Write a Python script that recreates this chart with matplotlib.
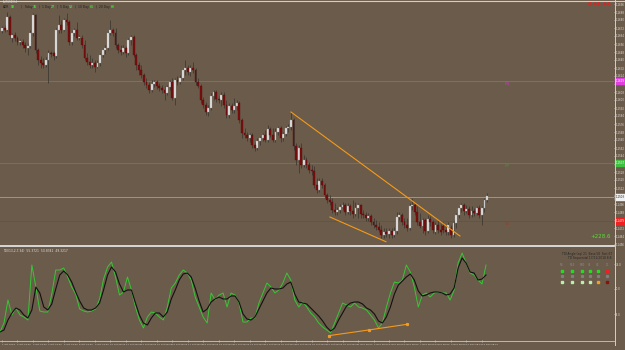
import numpy as np
import matplotlib
matplotlib.use("Agg")
import matplotlib.pyplot as plt
from matplotlib.lines import Line2D
from matplotlib.patches import Rectangle
from matplotlib import transforms
from matplotlib.ticker import MultipleLocator, FuncFormatter
from matplotlib import font_manager

# ---------------- data ----------------
symbol_title = "EURUSD,H4"
adr_labels = ["ADR", "Today", "1 Day", "5 Day", "10 Day", "20 Day"]
adr_values = ["88", "35", "27", "58", "61", "68"]

opens = [1.1669,1.1672,1.1670,1.1683,1.1662,1.1665,1.1662,1.1658,1.1658,1.1655,1.1652,1.1654,1.1667,1.1685,1.1650,1.1640,1.1637,1.1635,1.1640,1.1647,1.1647,1.1644,1.1670,1.1675,1.1670,1.1680,1.1678,1.1658,1.1667,1.1670,1.1662,1.1662,1.1655,1.1642,1.1638,1.1635,1.1637,1.1633,1.1637,1.1645,1.1650,1.1652,1.1667,1.1670,1.1667,1.1655,1.1650,1.1648,
         1.1652,1.1647,1.1660,1.1663,1.1645,1.1635,1.1630,1.1625,1.1618,1.1615,1.1610,1.1616,1.1618,1.1614,1.1612,1.1610,1.1607,1.1613,1.1618,1.1602,1.1620,1.1618,1.1622,1.1630,1.1632,1.1628,1.1632,1.1630,1.1618,1.1614,1.1600,1.1595,1.1588,1.1592,1.1604,1.1608,1.1601,1.1600,1.1605,1.1595,1.1585,1.1594,1.1590,1.1594,1.1597,1.1580,
         1.1567,1.1565,1.1562,1.1565,1.1555,1.1552,1.1559,1.1562,1.1565,1.1560,1.1571,1.1565,1.1560,1.1568,1.1572,1.1562,1.1566,1.1572,1.1573,1.1580,1.1554,1.1540,1.1552,1.1535,1.1540,1.1535,1.1530,1.1529,1.1515,1.1510,1.1519,1.1515,1.1505,1.1500,1.1498,1.1490,1.1488,1.1490,1.1493,1.1495,1.1488,1.1494,1.1489,1.1486,1.1492,1.1495,1.1486,
         1.1485,1.1482,1.1484,1.1478,1.1475,1.1473,1.1470,1.1465,1.1468,1.1466,1.1469,1.1465,1.1469,1.1483,1.1485,1.1478,1.1475,1.1472,1.1494,1.1495,1.1488,1.1478,1.1474,1.1480,1.1469,1.1481,1.1478,1.1468,1.1475,1.1470,1.1474,1.1470,1.1468,1.1472,1.1465,1.1477,1.1485,1.1492,1.1495,1.1489,1.1491,1.1485,1.1489,1.1487,1.1492,1.1485,1.1492,1.1500]

closes = [1.1672,1.1670,1.1683,1.1665,1.1665,1.1662,1.1658,1.1659,1.1655,1.1652,1.1654,1.1667,1.1685,1.1650,1.1640,1.1637,1.1635,1.1640,1.1647,1.1646,1.1644,1.1670,1.1675,1.1670,1.1680,1.1678,1.1658,1.1667,1.1670,1.1662,1.1663,1.1655,1.1642,1.1638,1.1635,1.1637,1.1633,1.1637,1.1645,1.1650,1.1652,1.1667,1.1670,1.1667,1.1655,1.1650,1.1648,1.1652,
          1.1647,1.1660,1.1663,1.1645,1.1635,1.1630,1.1625,1.1618,1.1615,1.1610,1.1616,1.1618,1.1614,1.1612,1.1610,1.1607,1.1613,1.1618,1.1602,1.1620,1.1618,1.1622,1.1630,1.1632,1.1628,1.1632,1.1630,1.1618,1.1614,1.1600,1.1595,1.1588,1.1592,1.1604,1.1608,1.1601,1.1600,1.1605,1.1595,1.1585,1.1594,1.1590,1.1594,1.1597,1.1580,1.1567,
          1.1565,1.1562,1.1565,1.1555,1.1552,1.1559,1.1562,1.1565,1.1560,1.1571,1.1565,1.1560,1.1568,1.1572,1.1562,1.1566,1.1572,1.1573,1.1580,1.1554,1.1540,1.1552,1.1535,1.1540,1.1535,1.1530,1.1529,1.1515,1.1510,1.1519,1.1515,1.1505,1.1500,1.1498,1.1490,1.1488,1.1490,1.1493,1.1495,1.1488,1.1494,1.1489,1.1486,1.1492,1.1495,1.1486,1.1485,
          1.1482,1.1484,1.1478,1.1475,1.1473,1.1470,1.1465,1.1468,1.1466,1.1469,1.1465,1.1469,1.1483,1.1485,1.1478,1.1475,1.1472,1.1494,1.1495,1.1488,1.1478,1.1474,1.1480,1.1469,1.1481,1.1478,1.1470,1.1475,1.1470,1.1468,1.1470,1.1468,1.1475,1.1465,1.1477,1.1485,1.1492,1.1495,1.1489,1.1491,1.1485,1.1489,1.1487,1.1492,1.1485,1.1492,1.1500,1.1504]

highs = [1.1674,1.1675,1.1688,1.1685,1.1667,1.1668,1.1664,1.1661,1.1661,1.1658,1.1657,1.1670,1.1687,1.1686,1.1652,1.1644,1.1642,1.1643,1.1650,1.1649,1.1649,1.1672,1.1685,1.1680,1.1682,1.1687,1.1680,1.1670,1.1672,1.1678,1.1665,1.1665,1.1660,1.1647,1.1645,1.1642,1.1640,1.1640,1.1647,1.1652,1.1655,1.1669,1.1680,1.1672,1.1672,1.1657,1.1655,1.1655,
         1.1654,1.1662,1.1665,1.1665,1.1647,1.1638,1.1635,1.1627,1.1622,1.1618,1.1620,1.1620,1.1620,1.1617,1.1615,1.1614,1.1615,1.1620,1.1622,1.1622,1.1624,1.1625,1.1632,1.1640,1.1635,1.1635,1.1638,1.1632,1.1622,1.1616,1.1603,1.1598,1.1595,1.1607,1.1610,1.1610,1.1605,1.1608,1.1608,1.1600,1.1597,1.1597,1.1602,1.1600,1.1599,1.1582,
         1.1572,1.1568,1.1567,1.1567,1.1558,1.1562,1.1564,1.1567,1.1570,1.1575,1.1573,1.1572,1.1572,1.1574,1.1574,1.1568,1.1574,1.1576,1.1588,1.1582,1.1557,1.1555,1.1557,1.1545,1.1543,1.1538,1.1535,1.1534,1.1522,1.1522,1.1522,1.1517,1.1507,1.1505,1.1502,1.1497,1.1493,1.1496,1.1498,1.1497,1.1497,1.1496,1.1500,1.1498,1.1497,1.1496,1.1490,
         1.1488,1.1487,1.1486,1.1482,1.1480,1.1478,1.1475,1.1472,1.1472,1.1472,1.1472,1.1473,1.1488,1.1488,1.1487,1.1482,1.1482,1.1497,1.1502,1.1497,1.1494,1.1487,1.1482,1.1482,1.1485,1.1484,1.1480,1.1478,1.1480,1.1476,1.1478,1.1475,1.1478,1.1475,1.1480,1.1487,1.1494,1.1497,1.1497,1.1495,1.1494,1.1494,1.1492,1.1494,1.1495,1.1494,1.1502,1.1507]

lows = [1.1667,1.1668,1.1669,1.1662,1.1658,1.1659,1.1655,1.1655,1.1652,1.1648,1.1645,1.1652,1.1664,1.1647,1.1635,1.1632,1.1632,1.1633,1.1617,1.1643,1.1640,1.1642,1.1667,1.1667,1.1669,1.1675,1.1655,1.1655,1.1664,1.1660,1.1660,1.1652,1.1640,1.1635,1.1632,1.1632,1.1628,1.1632,1.1634,1.1643,1.1646,1.1650,1.1665,1.1664,1.1652,1.1647,1.1645,1.1646,
        1.1643,1.1645,1.1655,1.1643,1.1630,1.1625,1.1622,1.1615,1.1612,1.1607,1.1608,1.1613,1.1611,1.1609,1.1607,1.1600,1.1605,1.1610,1.1600,1.1595,1.1615,1.1616,1.1620,1.1625,1.1625,1.1624,1.1627,1.1615,1.1612,1.1597,1.1592,1.1585,1.1584,1.1590,1.1600,1.1598,1.1597,1.1594,1.1592,1.1582,1.1582,1.1587,1.1587,1.1590,1.1577,1.1562,
        1.1562,1.1559,1.1558,1.1552,1.1549,1.1550,1.1555,1.1559,1.1558,1.1558,1.1563,1.1558,1.1558,1.1565,1.1558,1.1559,1.1564,1.1568,1.1570,1.1550,1.1535,1.1527,1.1532,1.1533,1.1532,1.1527,1.1525,1.1512,1.1507,1.1508,1.1512,1.1502,1.1497,1.1495,1.1487,1.1485,1.1485,1.1487,1.1490,1.1485,1.1486,1.1485,1.1482,1.1484,1.1482,1.1482,1.1482,
        1.1479,1.1479,1.1475,1.1472,1.1470,1.1468,1.1462,1.1462,1.1463,1.1462,1.1462,1.1463,1.1466,1.1480,1.1475,1.1472,1.1469,1.1470,1.1490,1.1485,1.1475,1.1472,1.1467,1.1465,1.1467,1.1474,1.1467,1.1466,1.1467,1.1465,1.1467,1.1465,1.1465,1.1462,1.1463,1.1472,1.1482,1.1488,1.1485,1.1487,1.1482,1.1483,1.1484,1.1485,1.1482,1.1475,1.1488,1.1498]

# oscillator (fast = green, slow = black), sampled evenly across the bars
osc_fast = [7, 16, 39, 24, 31, 24, 22, 19, 74, 52,
            28, 27, 27, 45, 69, 69, 71, 62, 52, 45,
            30, 28, 27, 28, 30, 40, 60, 72, 77, 62,
            44, 47, 62, 49, 32, 19, 11, 22, 27, 26,
            22, 19, 32, 51, 56, 64, 69, 66, 59, 42,
            32, 22, 16, 46, 39, 44, 46, 32, 46, 44,
            36, 17, 17, 21, 21, 36, 46, 56, 52, 46,
            49, 56, 66, 59, 39, 32, 37, 32, 26, 22,
            16, 12, 9, 6, 16, 26, 36, 34, 32, 36,
            32, 31, 29, 24, 19, 11, 16, 32, 46, 57,
            56, 59, 74, 67, 52, 32, 44, 46, 42, 46,
            47, 46, 46, 39, 49, 76, 86, 76, 66, 64,
            59, 55, 74]
osc_slow = [7, 9, 19, 26, 31, 29, 24, 21, 29, 52,
            46, 32, 29, 35, 50, 64, 68, 64, 57, 47,
            38, 31, 29, 29, 31, 36, 49, 64, 72, 67,
            55, 47, 49, 49, 36, 24, 16, 14, 21, 26,
            26, 22, 27, 40, 49, 59, 65, 66, 62, 51,
            38, 27, 30, 37, 40, 42, 40, 40, 43, 43,
            37, 25, 20, 19, 22, 30, 38, 46, 51, 50,
            50, 51, 55, 57, 45, 37, 36, 35, 31, 27,
            23, 18, 12, 8, 11, 19, 26, 33, 36, 37,
            37, 35, 31, 29, 25, 18, 16, 22, 32, 45,
            54, 58, 62, 65, 59, 48, 43, 44, 46, 47,
            47, 46, 44, 45, 51, 71, 81, 76, 67, 66,
            59, 60, 64]
osc_range = (-0.78, 187.6)

# trendlines (bar index, price / osc value)
upper_trend = [(112.0, 1.1588), (177.5, 1.1464)]
lower_trend = [(127.1, 1.1483), (148.8, 1.14583)]
osc_trend = [(126.6, 3.3), (142.1, 9.0), (157.0, 14.7)]

# horizontal levels
levels = [("R1", 1.1619, "#c23cc2"), ("PP", 1.1537, "#4f8c3a"), ("", 1.1503, "#9c978c"), ("S1", 1.1479, "#a03a2a")]

date_labels = ["1 Oct 2018", "2 Oct 08:00", "3 Oct 08:00", "4 Oct 08:00", "5 Oct 08:00",
               "8 Oct 08:00", "9 Oct 08:00", "10 Oct 08:00", "11 Oct 08:00", "12 Oct 08:00",
               "15 Oct 08:00", "16 Oct 08:00", "17 Oct 08:00", "18 Oct 08:00", "19 Oct 08:00",
               "22 Oct 08:00", "23 Oct 08:00", "24 Oct 08:00", "25 Oct 08:00", "26 Oct 08:00",
               "29 Oct 08:00", "30 Oct 08:00", "31 Oct 08:00", "1 Nov 08:00", "2 Nov 08:00",
               "5 Nov 08:00", "6 Nov 08:00", "7 Nov 08:00", "8 Nov 08:00", "9 Nov 08:00",
               "12 Nov 08:00", "13 Nov 08:00"]
bars_per_label = 6

tf_labels = ["M5", "M15", "M30", "H1", "H4", "D1"]
row_trend = ["#22dd22", "#22dd22", "#22dd22", "#22dd22", "#22dd22", "#ee2020"]
row_mid = ["#7f7f7f"] * 6
row_sig = ["#b8f0b0", "#b8f0b0", "#b8f0b0", "#b8f0b0", "#f0a020", "#8b1010"]

# ---------------- drawing ----------------
W, H = 625, 350
BG = "#6b5b4a"
WICK = "#3f3a33"
BULL = "#e4e4e4"
BEAR = "#7a1010"
AXC = "#dcdcdc"

avail = {f.name for f in font_manager.fontManager.ttflist}
NARROW = ["Liberation Sans Narrow", "DejaVu Sans"] if "Liberation Sans Narrow" in avail else ["DejaVu Sans"]

def fx(x):
    return x / W

def fy(y):
    return 1 - y / H

fig = plt.figure(figsize=(W / 100, H / 100), dpi=100, facecolor=BG)

# main price panel: pixels y 2..244, x 0..614 ; oscillator panel: y 248..340
ax = fig.add_axes([0, fy(244), fx(614), (244 - 2) / H], facecolor=BG)
axo = fig.add_axes([0, fy(340), fx(614), (340 - 248) / H], facecolor=BG)

o = np.array(opens); c = np.array(closes); h = np.array(highs); l = np.array(lows)
assert len(o) == len(c) == len(h) == len(l)
xb = np.arange(len(o))
up = c >= o
ax.vlines(xb, l, h, color=WICK, lw=0.6, zorder=2)
lo = np.minimum(o, c)
hh = np.maximum(np.abs(c - o), 0.00007)
ax.bar(xb[up], hh[up], bottom=lo[up], width=0.72, color=BULL, edgecolor="#9a9a9a", linewidth=0.25, zorder=3)
ax.bar(xb[~up], hh[~up], bottom=lo[~up], width=0.72, color=BEAR, edgecolor="#5a0808", linewidth=0.25, zorder=3)

xmin, xmax = (0 - 2) / 2.58, (614 - 2) / 2.58
for a in (ax, axo):
    a.set_xlim(xmin, xmax)
    for s in a.spines.values():
        s.set_visible(False)
ax.set_ylim(1.1700 - 0.0244, 1.1700 - 0.0002)

# levels
for name, p, col in levels:
    ax.axhline(p, color=col, lw=0.7, zorder=1)
    if name:
        ax.text(195, p - 0.00005, name, color=col, fontsize=3.0, va="top", ha="left", zorder=4)

# trendlines
for seg in (upper_trend, lower_trend):
    ax.plot([seg[0][0], seg[1][0]], [seg[0][1], seg[1][1]], color="#f59a1a", lw=0.8, zorder=5)

# right axis ticks (hide labels that sit under the level boxes)
level_prices = [p for _, p, _ in levels]
def price_fmt(v, pos):
    if any(abs(v - p) < 0.0005 for p in level_prices):
        return ""
    return "%.4f" % v
ax.yaxis.tick_right()
ax.yaxis.set_major_locator(MultipleLocator(0.0008))
ax.yaxis.set_major_formatter(FuncFormatter(price_fmt))
ax.tick_params(axis="y", colors=AXC, labelsize=1.9, length=0.7, width=0.4, pad=0.2)
for t in ax.get_yticklabels():
    t.set_family(NARROW)
ax.set_xticks([])

# value boxes on the right axis
bt = transforms.blended_transform_factory(fig.transFigure, ax.transData)
box_cols = {"#c23cc2": "#e040e0", "#4f8c3a": "#40c040", "#9c978c": "#f0f0f0", "#a03a2a": "#ee2020"}
for name, p, col in levels:
    r = Rectangle((fx(615), p - 0.00027), fx(10), 0.00054, transform=bt, color=box_cols[col], clip_on=False, zorder=6)
    ax.add_artist(r)
    ax.text(fx(615.4), p, "%.4f" % p, transform=bt, fontsize=1.9, family=NARROW,
            color="#202020" if col == "#9c978c" else "white",
            va="center", ha="left", clip_on=False, zorder=7)

# oscillator
xs = np.linspace(osc_range[0], osc_range[1], len(osc_fast))
axo.plot(xs, osc_fast, color="#34c834", lw=0.7, zorder=3)
axo.plot(xs, osc_slow, color="#111111", lw=0.8, zorder=4)
axo.plot([p[0] for p in osc_trend], [p[1] for p in osc_trend], color="#f59a1a", lw=0.8, zorder=5,
         marker="s", markersize=1.3)
axo.set_ylim(-1, 91)
axo.yaxis.tick_right()
axo.set_yticks([25, 50, 75])
axo.set_yticklabels(["25.0", "50.0", "75.0"])
axo.tick_params(axis="y", colors=AXC, labelsize=1.9, length=0.7, width=0.4, pad=0.2)
ticks = np.arange(len(date_labels)) * bars_per_label
axo.set_xticks(ticks)
axo.set_xticklabels(date_labels)
axo.tick_params(axis="x", colors=AXC, labelsize=1.75, length=1.5, width=0.4, pad=1.5)
for t in axo.get_xticklabels() + axo.get_yticklabels():
    t.set_family(NARROW)
for t in axo.get_xticklabels():
    t.set_ha("left")

# frame lines
def fline(x0, y0, x1, y1, col, lw):
    fig.add_artist(Line2D([fx(x0), fx(x1)], [fy(y0), fy(y1)], transform=fig.transFigure, color=col, lw=lw))

fline(0, 0.6, 625, 0.6, "#cfcfcf", 0.8)
fline(614.5, 0, 614.5, 345, "#d0d0d0", 0.7)
fline(0, 245.8, 614, 245.8, "#e2e2e2", 1.3)
fline(0, 340.5, 614, 340.5, "#c8c8c8", 0.6)

# header texts
fig.text(fx(3), fy(2.3), symbol_title, fontsize=1.8, family=NARROW, color="#e0e0e0", va="center")
lab_x = [3, 24, 42, 60, 78, 99]
val_x = [11, 33, 51, 69, 90, 111]
for i, (lb, vv) in enumerate(zip(adr_labels, adr_values)):
    fig.text(fx(lab_x[i]), fy(6.6), lb, fontsize=2.2, family=NARROW, color="#1e1e1e", va="center")
    fig.text(fx(val_x[i]), fy(6.6), vv, fontsize=2.2, family=NARROW, color="#3cd23c", va="center", weight="bold")
    if i > 0:
        fig.text(fx(lab_x[i] - 3.2), fy(6.6), "|", fontsize=2.0, family=NARROW, color="#1e1e1e", va="center")

fig.text(fx(612), fy(5), "0:49:44", fontsize=4.0, color="#e52020", va="center", ha="right", weight="bold")
fig.text(fx(611), fy(237), "+228.6", fontsize=4.0, color="#56dc3a", va="center", ha="right")

# oscillator header texts
fig.text(fx(3), fy(250.5), "TDI(13,2,7,34)  55.3721  50.8341  49.3217", fontsize=2.2, family=NARROW, color="#e0e0e0", va="center")
fig.text(fx(612), fy(253.5), "TDI Angle (eq) 21  Base 58  Fast 67", fontsize=2.1, family=NARROW, color="#262626", va="center", ha="right")
fig.text(fx(612), fy(257.8), "TD Sequential 17/11/2018 8:8", fontsize=2.1, family=NARROW, color="#262626", va="center", ha="right")
cols_x = [562, 572, 582, 590, 598, 607]
for i in range(6):
    fig.text(fx(cols_x[i]), fy(265), tf_labels[i], fontsize=1.8, family=NARROW, color="#8a8a8a", va="center", ha="center")
    for yy, colr, ms in ((271, row_trend[i], 2.0), (276, row_mid[i], 1.3), (282, row_sig[i], 2.0)):
        fig.add_artist(Line2D([fx(cols_x[i])], [fy(yy)], transform=fig.transFigure, marker="s",
                              markersize=ms, color=colr, lw=0))

fig.savefig("out.png", dpi=100, facecolor=BG)
